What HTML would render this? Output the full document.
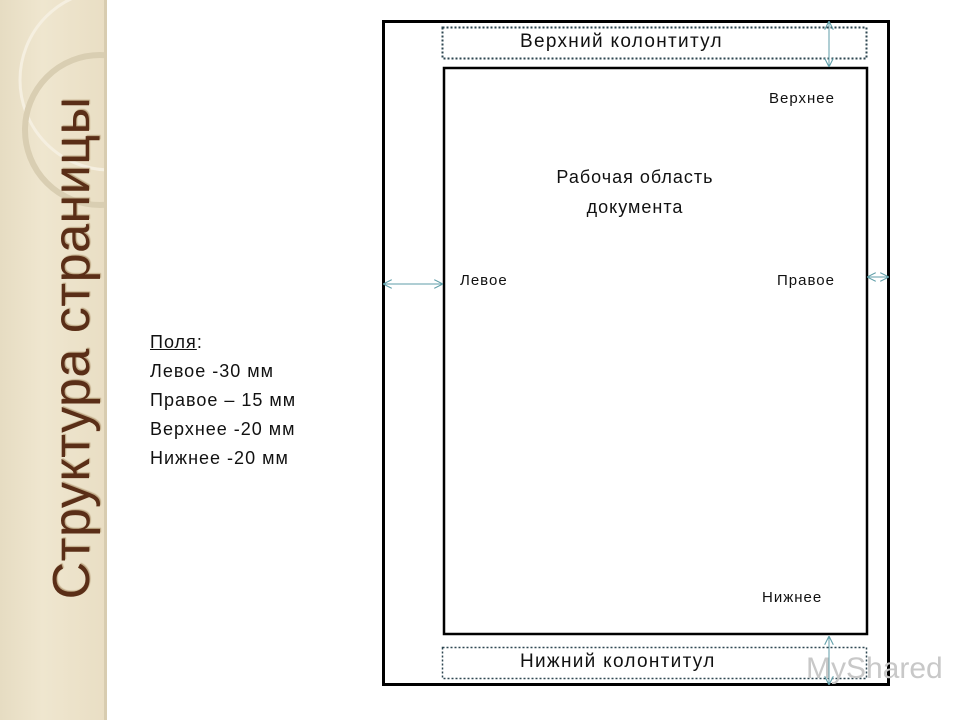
<!DOCTYPE html>
<html><head><meta charset="utf-8"><style>
body{margin:0;width:960px;height:720px;background:#fff;position:relative;overflow:hidden;font-family:"Liberation Sans","DejaVu Sans",sans-serif;}
.side{position:absolute;left:0;top:0;width:106px;height:720px;background:linear-gradient(90deg,#e6dcc2,#efe6cf 40%,#e9dec4);}
.edge{position:absolute;left:104px;top:0;width:3px;height:720px;background:#d8ccb0;}
.title{position:absolute;left:72px;top:348px;transform:translate(-50%,-50%) rotate(-90deg);white-space:nowrap;font-size:52px;letter-spacing:0.5px;color:#5a2e17;text-shadow:1px 1px 1px #b9a27e;}
.t{position:absolute;font-size:18px;color:#111;line-height:29px;letter-spacing:1px;}
.s{position:absolute;font-size:15px;color:#111;letter-spacing:1px;}
</style></head><body>
<div class="side"></div>
<svg style="position:absolute;left:0;top:0" width="106" height="720"><circle cx="110" cy="80" r="90" fill="none" stroke="#f5efe0" stroke-width="3"/><circle cx="100" cy="130" r="75" fill="none" stroke="#d9ceb2" stroke-width="6"/></svg>
<div class="edge"></div>
<div class="title">Структура страницы</div>
<div class="t" style="left:150px;top:328px"><u>Поля</u>:<br>Левое -30 мм<br>Правое – 15 мм<br>Верхнее -20 мм<br>Нижнее -20 мм</div>
<svg style="position:absolute;left:0;top:0" width="960" height="720">
<defs><marker id="a" viewBox="0 0 10 10" refX="9" refY="5" markerWidth="9" markerHeight="9" orient="auto-start-reverse"><path d="M0,0 L10,5 L0,10" fill="none" stroke="#5f9ea8" stroke-width="1.2"/></marker></defs>
<rect x="383.5" y="21.5" width="505" height="663" fill="none" stroke="#000" stroke-width="3"/>
<rect x="444" y="68" width="423" height="566" fill="none" stroke="#000" stroke-width="2.5"/>
<rect x="442.5" y="27.5" width="424" height="31" fill="none" stroke="#2d4650" stroke-width="2" stroke-dasharray="2,2"/>
<rect x="442.5" y="647.5" width="424" height="31" fill="none" stroke="#2d4650" stroke-width="1.5" stroke-dasharray="2,2"/>
<line x1="829" y1="22" x2="829" y2="66" stroke="#5f9ea8" stroke-width="1" marker-start="url(#a)" marker-end="url(#a)"/>
<line x1="829" y1="637" x2="829" y2="684" stroke="#5f9ea8" stroke-width="1" marker-start="url(#a)" marker-end="url(#a)"/>
<line x1="384" y1="284" x2="442" y2="284" stroke="#5f9ea8" stroke-width="1" marker-start="url(#a)" marker-end="url(#a)"/>
<line x1="868" y1="277" x2="888" y2="277" stroke="#5f9ea8" stroke-width="1" marker-start="url(#a)" marker-end="url(#a)"/>
</svg>
<div class="t" style="left:520px;top:27px;font-size:19px;letter-spacing:1.3px">Верхний колонтитул</div>
<div class="t" style="left:520px;top:647px;font-size:19px;letter-spacing:1.3px">Нижний колонтитул</div>
<div class="s" style="left:769px;top:90px">Верхнее</div>
<div class="s" style="left:762px;top:589px">Нижнее</div>
<div class="s" style="left:460px;top:272px">Левое</div>
<div class="s" style="left:777px;top:272px">Правое</div>
<div class="t" style="left:540px;top:162px;width:190px;font-size:18px;text-align:center;line-height:30px">Рабочая область<br>документа</div>
<div style="position:absolute;left:806px;top:652px;font-size:30px;color:#c8c8c8">MyShared</div>
</body></html>
